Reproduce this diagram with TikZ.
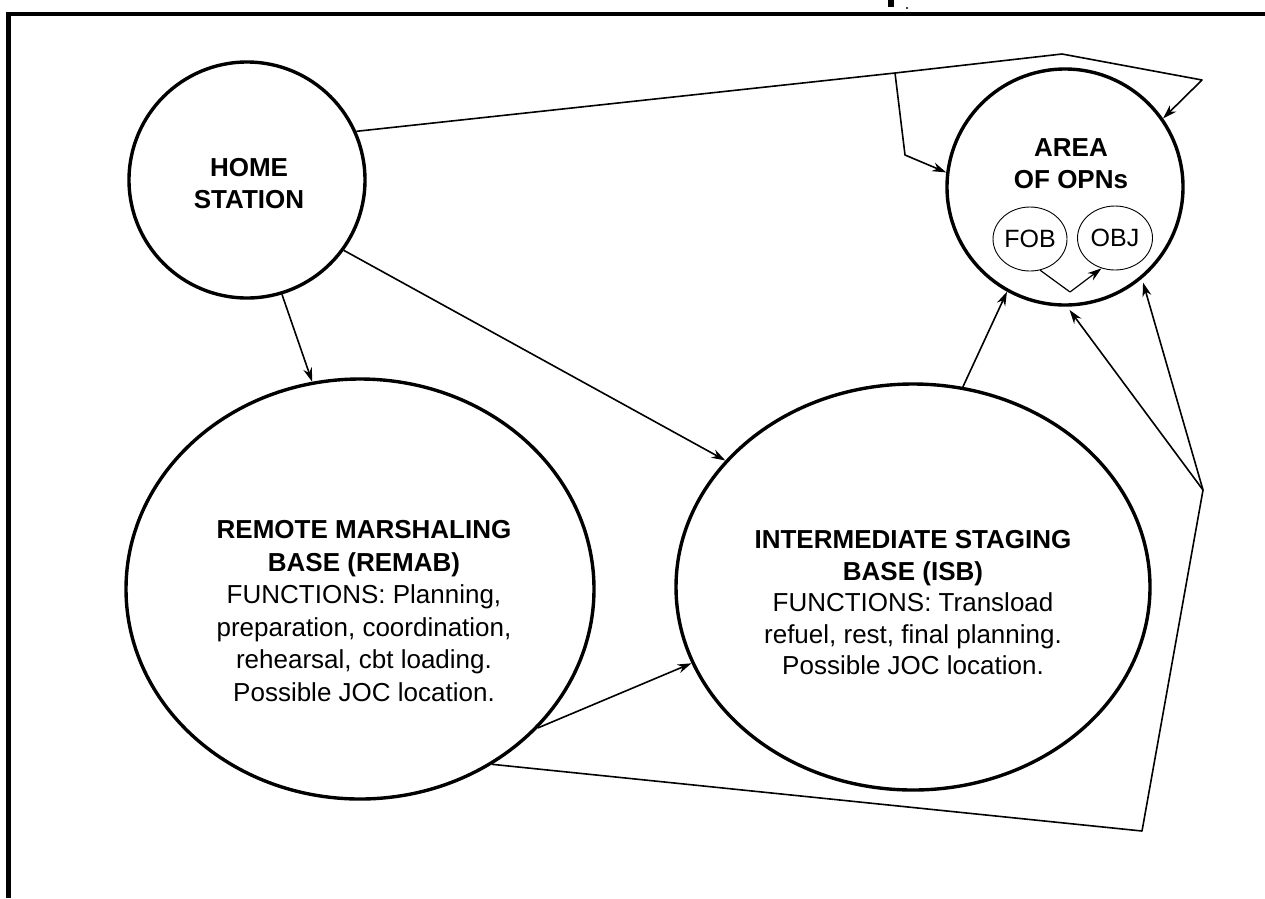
\documentclass[tikz,border=0pt]{standalone}
\usepackage{fontspec}
\setmainfont{Liberation Sans}
\usetikzlibrary{shapes.geometric,arrows.meta}
\begin{document}
\begin{tikzpicture}[x=1pt,y=-1pt,
  big/.style={ellipse,draw,line width=3.4pt,inner sep=0pt},
  small/.style={ellipse,draw,line width=0.9pt,inner sep=0pt,font=\fontsize{25}{30}\selectfont},
  lbl/.style={align=center,inner sep=0pt,font=\fontsize{26}{32.5}\selectfont},
  conn/.style={line width=1.6pt,line join=round},
  arr/.style={conn,-{Stealth[length=14pt,width=9pt]}},
]
\useasboundingbox (0,0) rectangle (1265,898);
% frame
\draw[line width=4.5pt] (8.5,898) -- (8.5,14) -- (1265,14);
\fill (888,0) rectangle (894,7);
\fill (907,8) circle (1.2pt);

% circles
\node[big,minimum width=236pt,minimum height=236pt] (home) at (247,180) {};
\node[big,minimum width=236pt,minimum height=236pt] (area) at (1065,187) {};
\node[big,minimum width=468pt,minimum height=420pt] (remab) at (360,589) {};
\node[big,minimum width=474pt,minimum height=406pt] (isb) at (913,587) {};
\node[small,minimum width=74pt,minimum height=64pt] (fob) at (1030,239) {FOB};
\node[small,minimum width=75pt,minimum height=64pt] (obj) at (1115,238) {OBJ};

% texts
\node[lbl,font=\fontsize{26}{32}\selectfont\bfseries] (hometxt) at (249,184) {HOME\\STATION};
\node[lbl,font=\fontsize{26}{32}\selectfont\bfseries] (areatxt) at (1071,164) {AREA\\OF OPNs};
\node[lbl] (remabtxt) at (364,611) {\textbf{REMOTE MARSHALING}\\\textbf{BASE (REMAB)}\\FUNCTIONS: Planning,\\preparation, coordination,\\rehearsal, cbt loading.\\Possible JOC location.};
\node[lbl,font=\fontsize{26}{31.5}\selectfont] (isbtxt) at (913,603) {\textbf{INTERMEDIATE STAGING}\\\textbf{BASE (ISB)}\\FUNCTIONS: Transload\\refuel, rest, final planning.\\Possible JOC location.};

% connectors
\coordinate (t1) at (895,73);
\coordinate (t2) at (1062,54);
\coordinate (t3) at (1202,80);
\coordinate (b1) at (905,155);
\coordinate (c1) at (1142,831);
\coordinate (v) at (1203,490);
\coordinate (f1) at (1070,292);

\draw[arr] (home.24) -- (t1) -- (t2) -- (t3) -- (area.35);
\draw[arr] (t1) -- (b1) -- (area.173);
\draw[arr] (home.-73) -- (remab.103);
\draw[arr] (home.-36) -- (isb.146);
\draw[arr] (remab.-38) -- (isb.199);
\draw[conn] (remab.-53) -- (c1) -- (v);
\draw[arr,shorten >=4pt] (v) -- (area.-89);
\draw[arr,shorten >=4pt] (v) -- (area.-50);
\draw[arr] (isb.76) -- (area.-119);
\draw[arr,line width=1.2pt] (fob.-72) -- (f1) -- (obj.-114);
\end{tikzpicture}
\end{document}
